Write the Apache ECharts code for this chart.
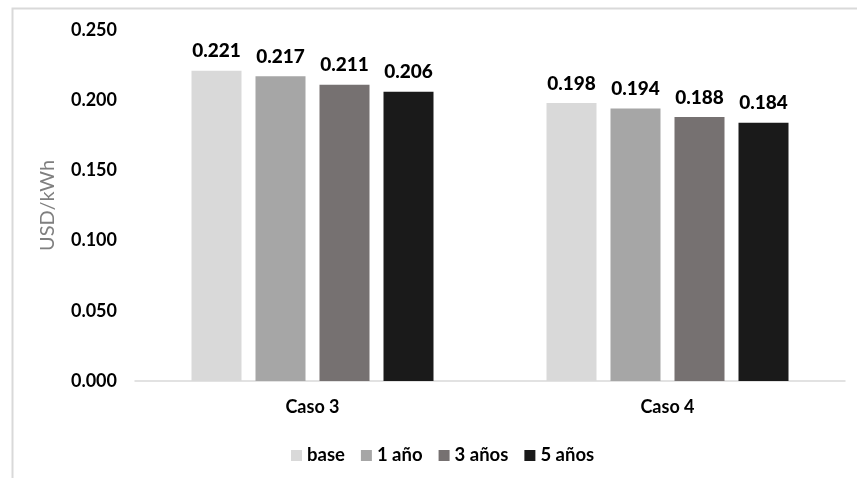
<!DOCTYPE html>
<html><head><meta charset="utf-8">
<script src="https://cdn.jsdelivr.net/npm/echarts@6/dist/echarts.min.js"></script>
<style>html,body{margin:0;padding:0;background:#fff}#c{width:857px;height:478px}</style>
</head><body><div id="c"></div>
<script>
const categories = ['Caso 3', 'Caso 4'];
const seriesNames = ['base', '1 año', '3 años', '5 años'];
const base = [0.221, 0.198];
const y1 = [0.217, 0.194];
const y3 = [0.211, 0.188];
const y5 = [0.206, 0.184];
const colors = ['#d9d9d9', '#a6a6a6', '#767171', '#1a1a1a'];
const FONT = 'Lato';
const chart = echarts.init(document.getElementById('c'), null, {renderer: 'canvas'});
const values = [base, y1, y3, y5];
chart.setOption({
  animation: false,
  textStyle: {fontFamily: FONT},
  graphic: [{type: 'rect', left: 10, top: 6, shape: {width: 900, height: 520}, style: {fill: 'none', stroke: '#d9d9d9', lineWidth: 2}, silent: true}],
  grid: {left: 135, right: 12, top: 30, bottom: 97},
  legend: {
    left: 286, top: 441, itemWidth: 11, itemHeight: 11, itemGap: 16,
    icon: 'rect',
    textStyle: {fontFamily: FONT, fontWeight: 'bold', fontSize: 18.5, color: '#000'},
    data: seriesNames
  },
  xAxis: {
    type: 'category', data: categories,
    axisLine: {lineStyle: {color: '#d9d9d9', width: 1.5}},
    axisTick: {show: false},
    axisLabel: {fontFamily: FONT, fontWeight: 'bold', fontSize: 18, color: '#000', margin: 17}
  },
  yAxis: {
    type: 'value', min: 0, max: 0.25, interval: 0.05,
    name: 'USD/kWh', nameLocation: 'middle', nameGap: 77, nameRotate: 90,
    nameTextStyle: {fontFamily: FONT, fontSize: 20, color: '#7f7f7f'},
    axisLine: {show: false}, axisTick: {show: false}, splitLine: {show: false},
    axisLabel: {fontFamily: FONT, fontWeight: 'bold', fontSize: 18, color: '#000', margin: 18,
      formatter: v => v.toFixed(3)}
  },
  series: seriesNames.map((n, i) => ({
    name: n, type: 'bar', data: values[i], barWidth: 50, barGap: '28%',
    itemStyle: {color: colors[i]},
    label: {show: true, position: 'top', distance: 10, fontFamily: FONT, fontWeight: 900, fontSize: 19, color: '#000',
      formatter: p => p.value.toFixed(3)}
  }))
});
</script></body></html>
